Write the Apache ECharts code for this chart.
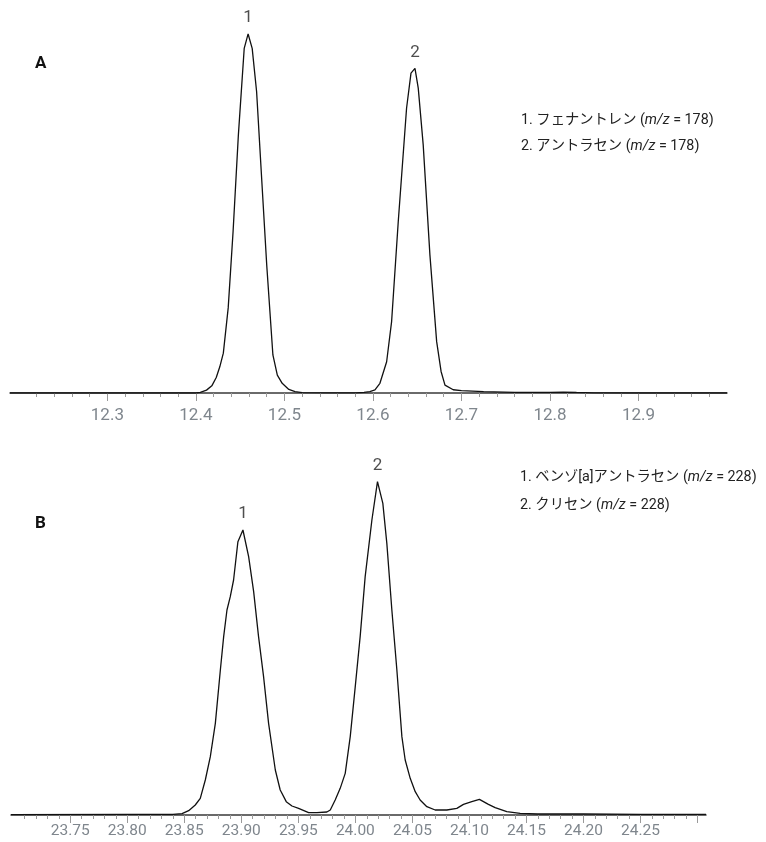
<!DOCTYPE html>
<html>
<head>
<meta charset="utf-8">
<script src="https://cdn.jsdelivr.net/npm/echarts@6/dist/echarts.min.js"></script>
<style>
html,body{margin:0;padding:0;background:#fff;}
#c{width:766px;height:842px;}
</style>
</head>
<body>
<div id="c"></div>
<script>
// ---- Panel A data (retention time, min / relative intensity) ----
const timeA = [12.19, 12.30, 12.40, 12.405, 12.412, 12.418, 12.423, 12.427, 12.431, 12.4365, 12.442, 12.448, 12.4546, 12.459, 12.4636, 12.4686, 12.474, 12.48, 12.487, 12.492, 12.4975, 12.505, 12.512, 12.52, 12.55, 12.58, 12.59, 12.5965, 12.6023, 12.6079, 12.6155, 12.6211, 12.6286, 12.638, 12.643, 12.6475, 12.6512, 12.6568, 12.6644, 12.672, 12.677, 12.6814, 12.6907, 12.70, 12.725, 12.76, 12.80, 12.815, 12.83, 12.85, 12.90, 13.0];
const intensityA = [0, 0, 0, 0.2, 0.8, 2.0, 4.3, 7.3, 11.1, 23.7, 44.9, 71.9, 96.0, 100, 96.0, 83.9, 61.0, 35.7, 10.6, 5.0, 2.7, 1.0, 0.4, 0.1, 0.05, 0.05, 0.2, 0.4, 0.84, 2.7, 8.7, 19.9, 47.7, 79.3, 89.1, 90.4, 84.9, 69.1, 38.4, 14.3, 6.0, 2.2, 0.9, 0.65, 0.37, 0.2, 0.15, 0.25, 0.15, 0.05, 0, 0];
const peaksA = [{name: '1', t: 12.459, v: 100}, {name: '2', t: 12.6475, v: 90.4}];
const majorTicksA = [12.3, 12.4, 12.5, 12.6, 12.7, 12.8, 12.9];
const minorTicksA = [12.22, 12.24, 12.26, 12.28, 12.32, 12.34, 12.36, 12.38, 12.42, 12.44, 12.46, 12.48, 12.52, 12.54, 12.56, 12.58, 12.62, 12.64, 12.66, 12.68, 12.72, 12.74, 12.76, 12.78, 12.82, 12.84, 12.86, 12.88, 12.92, 12.94, 12.96, 12.98];
const legendA = ['1. フェナントレン ({i|m/z} = 178)', '2. アントラセン ({i|m/z} = 178)'];

// ---- Panel B data ----
const timeB = [23.698, 23.80, 23.84, 23.848, 23.8538, 23.8596, 23.864, 23.8684, 23.8728, 23.8772, 23.8816, 23.8845, 23.8874, 23.8903, 23.8932, 23.897, 23.9014, 23.9064, 23.9108, 23.9151, 23.9195, 23.9239, 23.9298, 23.9341, 23.9394, 23.9444, 23.9502, 23.959, 23.9663, 23.975, 23.978, 23.9823, 23.9867, 23.9911, 23.9955, 23.9999, 24.0042, 24.0086, 24.0145, 24.0194, 24.0241, 24.0276, 24.032, 24.0364, 24.0408, 24.0437, 24.0481, 24.0525, 24.0568, 24.0627, 24.07, 24.0802, 24.089, 24.0948, 24.1021, 24.1088, 24.1167, 24.1226, 24.1328, 24.1445, 24.16, 24.20, 24.25, 24.3075];
const intensityB = [0.1, 0.2, 0.2, 0.4, 1.3, 3.0, 5.0, 10.5, 17.5, 27.5, 43.5, 53.5, 61.5, 65.5, 70.5, 82.0, 85.5, 77.5, 67.0, 53.5, 41.5, 27.5, 13.5, 7.5, 4.0, 2.7, 2.0, 0.7, 0.7, 0.9, 1.5, 4.5, 8.0, 12.5, 23.5, 38.5, 53.5, 71.5, 88.5, 100, 93.5, 81.5, 61.5, 43.5, 23.5, 16.5, 11.0, 7.0, 4.5, 2.5, 1.5, 1.5, 2.0, 3.2, 4.0, 4.7, 3.2, 2.2, 1.0, 0.5, 0.3, 0.3, 0.2, 0.2];
const peaksB = [{name: '1', t: 23.9014, v: 85.5}, {name: '2', t: 24.0194, v: 100}];
const majorTicksB = [23.75, 23.80, 23.85, 23.90, 23.95, 24.00, 24.05, 24.10, 24.15, 24.20, 24.25, 24.30];
const labelsB = [23.75, 23.80, 23.85, 23.90, 23.95, 24.00, 24.05, 24.10, 24.15, 24.20, 24.25];
const minorTicksB = [23.71, 23.72, 23.73, 23.74, 23.76, 23.77, 23.78, 23.79, 23.81, 23.82, 23.83, 23.84, 23.86, 23.87, 23.88, 23.89, 23.91, 23.92, 23.93, 23.94, 23.96, 23.97, 23.98, 23.99, 24.01, 24.02, 24.03, 24.04, 24.06, 24.07, 24.08, 24.09, 24.11, 24.12, 24.13, 24.14, 24.16, 24.17, 24.18, 24.19, 24.21, 24.22, 24.23, 24.24, 24.26, 24.27, 24.28, 24.29];
const legendB = ['1. ベンゾ[a]アントラセン ({i|m/z} = 228)', '2. クリセン ({i|m/z} = 228)'];

const FONT = 'Roboto, "Noto Sans CJK JP", sans-serif';
const AXIS_LABEL = '#7f868d';

function zip(t, v) { return t.map((x, i) => [x, v[i]]); }

function majorAxis(grid, min, max, ticks, labels, fs, margin, digits) {
  return {
    type: 'value', gridIndex: grid, min: min, max: max, position: 'bottom',
    axisLine: {show: true, onZero: false, lineStyle: {color: '#3a3a3a', width: 1.5}},
    axisTick: {show: true, customValues: ticks, length: 8, lineStyle: {color: '#9a9a9a', width: 1}},
    axisLabel: {show: true, customValues: labels, color: AXIS_LABEL, fontSize: fs, fontFamily: FONT, margin: margin,
      formatter: v => Number(v).toFixed(digits)},
    splitLine: {show: false}
  };
}
function minorAxis(grid, min, max, ticks) {
  return {
    type: 'value', gridIndex: grid, min: min, max: max, position: 'bottom',
    axisLine: {show: false, onZero: false},
    axisTick: {show: true, customValues: ticks, length: 4, lineStyle: {color: '#9a9a9a', width: 1}},
    axisLabel: {show: false},
    splitLine: {show: false}
  };
}
function peakSeries(xi, yi, peaks) {
  return {
    type: 'scatter', xAxisIndex: xi, yAxisIndex: yi, symbolSize: 1,
    itemStyle: {color: 'rgba(0,0,0,0)'},
    silent: true,
    data: peaks.map(p => ({name: p.name, value: [p.t, p.v]})),
    label: {show: true, position: 'top', distance: 7, formatter: p => p.name,
      color: '#222', fontSize: 17, fontFamily: FONT}
  };
}
function legendText(lines, left, top, gap) {
  return lines.map((s, i) => ({
    type: 'text', left: left, top: top + i * gap,
    style: {text: s, fill: '#222', font: '14.3px ' + FONT,
      rich: {i: {fontStyle: 'italic', fontSize: 14.3, fontFamily: FONT, fill: '#222'}}}
  }));
}

const chart = echarts.init(document.getElementById('c'), null, {renderer: 'canvas'});
chart.setOption({
  animation: false,
  backgroundColor: '#fff',
  grid: [
    {left: 10, right: 39, top: 16, height: 377},
    {left: 11, right: 60, top: 465, height: 350}
  ],
  xAxis: [
    majorAxis(0, 12.19, 13.0, majorTicksA, majorTicksA, 17, 14, 1),
    minorAxis(0, 12.19, 13.0, minorTicksA),
    majorAxis(1, 23.698, 24.3075, majorTicksB, labelsB, 15.5, 8, 2),
    minorAxis(1, 23.698, 24.3075, minorTicksB)
  ],
  yAxis: [
    {type: 'value', gridIndex: 0, min: 0, max: 105, show: false},
    {type: 'value', gridIndex: 1, min: 0, max: 105, show: false}
  ],
  series: [
    {type: 'line', xAxisIndex: 0, yAxisIndex: 0, data: zip(timeA, intensityA), showSymbol: false, symbol: 'none',
      lineStyle: {color: '#111', width: 1.3}, silent: true},
    {type: 'line', xAxisIndex: 2, yAxisIndex: 1, data: zip(timeB, intensityB), showSymbol: false, symbol: 'none',
      lineStyle: {color: '#111', width: 1.3}, silent: true},
    peakSeries(0, 0, peaksA),
    peakSeries(2, 1, peaksB)
  ],
  graphic: [
    {type: 'text', left: 35, top: 55, style: {text: 'A', fill: '#111', font: 'bold 17px ' + FONT}},
    {type: 'text', left: 35, top: 515, style: {text: 'B', fill: '#111', font: 'bold 17px ' + FONT}}
  ].concat(legendText(legendA, 521, 113, 26)).concat(legendText(legendB, 520, 470, 28))
});
</script>
</body>
</html>
